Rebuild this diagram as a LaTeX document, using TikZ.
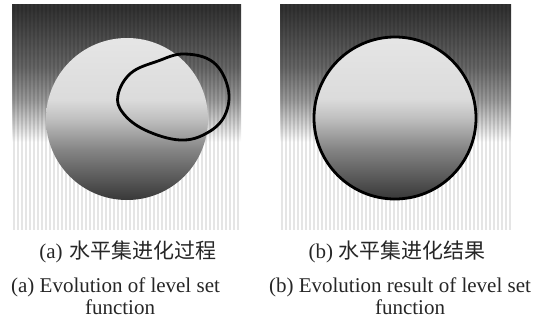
\documentclass[tikz,border=0pt]{standalone}
\usepackage{fontspec}
\setmainfont{Liberation Serif}
\newfontfamily\cjk{Noto Sans CJK SC}
\usepackage{tikz}
\usetikzlibrary{positioning}
% vertical shadings (the path's box maps to 25bp..75bp)
\pgfdeclareverticalshading{fieldshade}{100bp}{color(0bp)=(white); color(44.5bp)=(white); color(47.8bp)=(black!15); color(53.8bp)=(black!40); color(61bp)=(black!60); color(73.7bp)=(black!80); color(100bp)=(black!80)}
\pgfdeclareverticalshading{discshade}{100bp}{color(0bp)=(black!78); color(25bp)=(black!78); color(40.5bp)=(black!48); color(50bp)=(black!25); color(56bp)=(black!14); color(75bp)=(black!10); color(100bp)=(black!10)}

\begin{document}
\begin{tikzpicture}[x=1pt, y=-1pt,
        field/.style={shading=fieldshade},
        disc/.style={shading=discshade},
        stripe/.style={black, opacity=0.1, line width=1.5pt},
        contour/.style={black, line width=2.8pt},
        capcn/.style={anchor=base, inner sep=0pt, text=black!85, font=\fontsize{21}{24}\selectfont},
        capen/.style={anchor=base, inner sep=0pt, text=black!85, font=\fontsize{21}{24}\selectfont}
    ]
        \useasboundingbox (0,0) rectangle (538,322);

        % panel (a)
        \shade [field] (12,4) rectangle (241,230);
        \foreach \x in {14,18,...,240}
            \draw [stripe] (\x,4) -- (\x,230);
        \shade [disc] (127,119) circle (81);
        \draw [contour] plot [smooth cycle, tension=0.65] coordinates {(118,95) (131,73) (158,61) (184,54) (213,62) (228,88) (225,115) (207,133) (180,140) (145,130) (123,113)};

        % panel (b)
        \shade [field] (280,4) rectangle (511,230);
        \foreach \x in {282,286,...,510}
            \draw [stripe] (\x,4) -- (\x,230);
        \shade [disc] (395,118) circle (81);
        \draw [contour] (395,118) circle (81);

        % captions
        \node (cnA) [capcn] at (128,258) {(a)\hspace{7pt}{\cjk 水平集进化过程}};
        \node (enA) [capen] at (115.5,292) {(a) Evolution of level set};
        \node (fnA) [capen] at (120,314) {function};
        \node (cnB) [capcn] at (397,258) {(b) {\cjk 水平集进化结果}};
        \node (enB) [capen] at (400,292) {(b) Evolution result of level set};
        \node (fnB) [capen] at (410,314) {function};
    \end{tikzpicture}
\end{document}
